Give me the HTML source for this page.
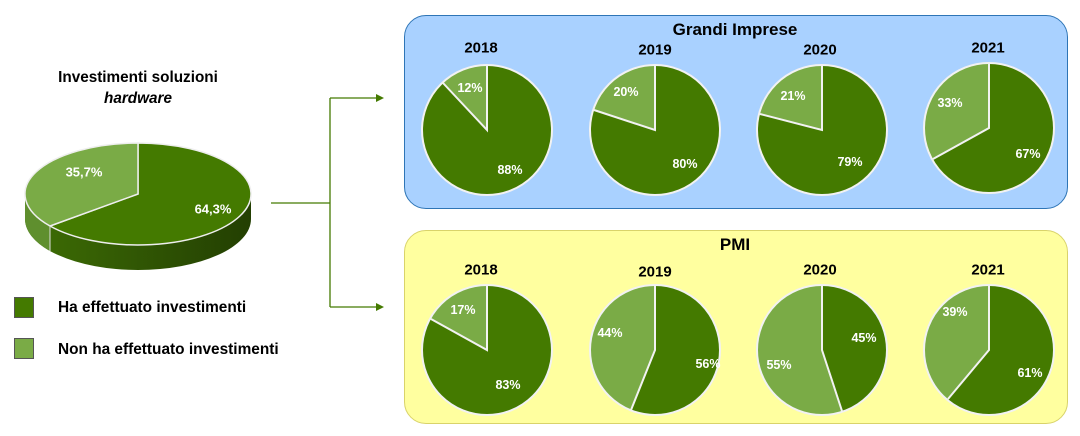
<!DOCTYPE html>
<html><head><meta charset="utf-8"><style>
body{margin:0;width:1080px;height:436px;background:#fff;position:relative;overflow:hidden;font-family:"Liberation Sans",sans-serif;font-weight:bold}
.box{position:absolute;left:404px;width:664px;height:194px;border-radius:22px;box-sizing:border-box}
.pie{position:absolute;width:132px;height:132px;border-radius:50%;border:2px solid #f2f2f2;box-sizing:border-box}
.t{position:absolute;transform:translate(-50%,-50%);white-space:nowrap}
.l{position:absolute;transform:translate(-50%,-50%);color:#fff;font-size:12.5px}
.y{position:absolute;transform:translate(-50%,-50%);font-size:15px;color:#000}
</style></head><body>
<div class="box" style="top:15px;background:#a9d1ff;border:1.5px solid #2e75b6"></div>
<div class="box" style="top:230px;background:#ffff9f;border:1.5px solid #d9d36a"></div>
<div class="t" style="left:735px;top:30px;font-size:17px">Grandi Imprese</div>
<div class="t" style="left:735px;top:245px;font-size:17px">PMI</div>

<svg width="1080" height="436" style="position:absolute;left:0;top:0">
<defs><linearGradient id="g" x1="0" x2="1"><stop offset="0" stop-color="#3e6e05"/><stop offset="1" stop-color="#233f02"/></linearGradient></defs>
<path d="M25,194 A113 51 0 0 0 251 194 L251 219 A113 51 0 0 1 25 219 Z" fill="url(#g)"/>
<path d="M25,194 A113 51 0 0 0 50 226 L50 251 A113 51 0 0 1 25 219 Z" fill="#5f8f2e"/>
<path d="M138,194 L138,143 A113 51 0 1 1 50 226 Z" fill="#447a00" stroke="#eee" stroke-width="1.5"/>
<path d="M138,194 L50,226 A113 51 0 0 1 138 143 Z" fill="#7aab46" stroke="#eee" stroke-width="1.5"/>
<line x1="50" y1="226" x2="50" y2="251" stroke="#ddd" stroke-width="1"/>
<g stroke="#447a00" stroke-width="1.3" fill="none"><path d="M271,203 H330 M330,98 V307 M330,98 H378 M330,307 H378"/></g>
<path d="M384,98 L376,94 L376,102 Z M384,307 L376,303 L376,311 Z" fill="#447a00"/>
</svg>
<div class="t" style="left:138px;top:78px;font-size:15.3px">Investimenti soluzioni</div>
<div class="t" style="left:138px;top:99px;font-size:15.3px;font-style:italic">hardware</div>
<div class="l" style="left:84px;top:172px;font-size:13px">35,7%</div>
<div class="l" style="left:213px;top:209px;font-size:13px">64,3%</div>
<div style="position:absolute;left:14px;top:297px;width:20px;height:21px;background:#447a00;border:1px solid #555;box-sizing:border-box"></div>
<div style="position:absolute;left:14px;top:338px;width:20px;height:21px;background:#7aab46;border:1px solid #555;box-sizing:border-box"></div>
<div style="position:absolute;left:58px;top:299px;font-size:15.4px">Ha effettuato investimenti</div>
<div style="position:absolute;left:58px;top:341px;font-size:15.4px">Non ha effettuato investimenti</div>

<div class="y" style="left:481px;top:48px">2018</div>
<div class="y" style="left:655px;top:50px">2019</div>
<div class="y" style="left:820px;top:50px">2020</div>
<div class="y" style="left:988px;top:48px">2021</div>
<div class="y" style="left:481px;top:270px">2018</div>
<div class="y" style="left:655px;top:272px">2019</div>
<div class="y" style="left:820px;top:270px">2020</div>
<div class="y" style="left:988px;top:270px">2021</div>

<div class="pie" style="left:421px;top:64px;background:conic-gradient(#447a00 0 88%,#7aab46 88% 100%)"></div>
<div class="pie" style="left:589px;top:64px;background:conic-gradient(#447a00 0 80%,#7aab46 80% 100%)"></div>
<div class="pie" style="left:756px;top:64px;background:conic-gradient(#447a00 0 79%,#7aab46 79% 100%)"></div>
<div class="pie" style="left:923px;top:62px;background:conic-gradient(#447a00 0 67%,#7aab46 67% 100%)"></div>
<div class="pie" style="left:421px;top:284px;background:conic-gradient(#447a00 0 83%,#7aab46 83% 100%)"></div>
<div class="pie" style="left:589px;top:284px;background:conic-gradient(#447a00 0 56%,#7aab46 56% 100%)"></div>
<div class="pie" style="left:756px;top:284px;background:conic-gradient(#447a00 0 45%,#7aab46 45% 100%)"></div>
<div class="pie" style="left:923px;top:284px;background:conic-gradient(#447a00 0 61%,#7aab46 61% 100%)"></div>

<svg width="1080" height="436" style="position:absolute;left:0;top:0">
<g stroke="#f2f2f2" stroke-width="2" fill="none">
<path d="M487,66 V130 L443,83"/>
<path d="M655,66 V130 L594,110"/>
<path d="M822,66 V130 L760,114"/>
<path d="M989,64 V128 L933,159"/>
<path d="M487,286 V350 L431,319"/>
<path d="M655,286 V350 L631,410"/>
<path d="M822,286 V350 L842,411"/>
<path d="M989,286 V350 L948,399"/>
</g></svg>

<div class="l" style="left:470px;top:88px">12%</div><div class="l" style="left:510px;top:170px">88%</div>
<div class="l" style="left:626px;top:92px">20%</div><div class="l" style="left:685px;top:164px">80%</div>
<div class="l" style="left:793px;top:96px">21%</div><div class="l" style="left:850px;top:162px">79%</div>
<div class="l" style="left:950px;top:103px">33%</div><div class="l" style="left:1028px;top:154px">67%</div>
<div class="l" style="left:463px;top:310px">17%</div><div class="l" style="left:508px;top:385px">83%</div>
<div class="l" style="left:610px;top:333px">44%</div><div class="l" style="left:708px;top:364px">56%</div>
<div class="l" style="left:779px;top:365px">55%</div><div class="l" style="left:864px;top:338px">45%</div>
<div class="l" style="left:955px;top:312px">39%</div><div class="l" style="left:1030px;top:373px">61%</div>
</body></html>
